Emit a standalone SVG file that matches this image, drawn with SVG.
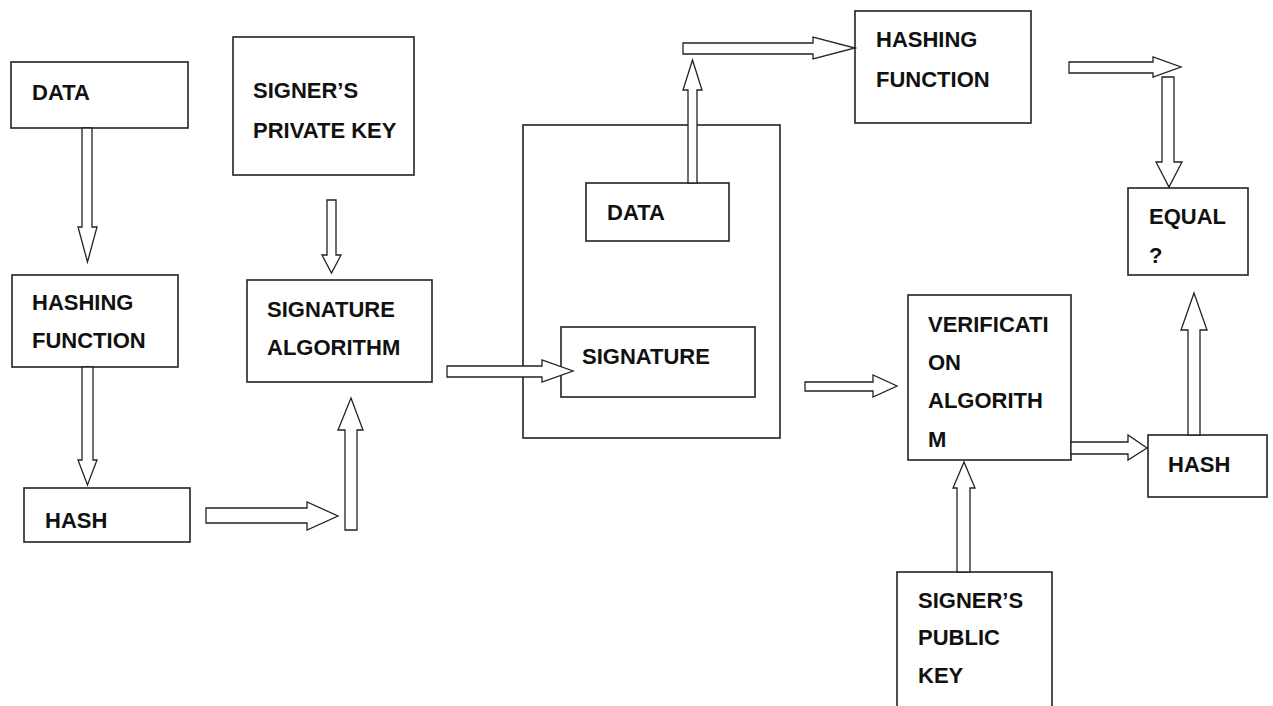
<svg xmlns="http://www.w3.org/2000/svg" width="1273" height="706" viewBox="0 0 1273 706">
<style>
.box{fill:#fff;stroke:#222;stroke-width:1.6}
.t{font-family:"Liberation Sans",Arial,sans-serif;font-weight:bold;font-size:22px;fill:#111}
.arr{fill:#fff;stroke:#222;stroke-width:1.3;stroke-linejoin:miter}
</style>
<rect width="1273" height="706" fill="#fff"/>
<g id="container"><rect x="523" y="125" width="257" height="313" fill="none" stroke="#222" stroke-width="1.6"/></g>
<g id="data1"><rect class="box" x="11" y="62" width="177" height="66"/><text class="t" x="32" y="100">DATA</text></g>
<g id="hash-func1"><rect class="box" x="12" y="275" width="166" height="92"/><text class="t" x="32" y="310">HASHING</text><text class="t" x="32" y="348">FUNCTION</text></g>
<g id="hash1"><rect class="box" x="24" y="488" width="166" height="54"/><text class="t" x="45" y="528">HASH</text></g>
<g id="private-key"><rect class="box" x="233" y="37" width="181" height="138"/><text class="t" x="253" y="98">SIGNER’S</text><text class="t" x="253" y="138">PRIVATE KEY</text></g>
<g id="sig-alg"><rect class="box" x="247" y="280" width="185" height="102"/><text class="t" x="267" y="317">SIGNATURE</text><text class="t" x="267" y="355">ALGORITHM</text></g>
<g id="data2"><rect class="box" x="586" y="183" width="143" height="58"/><text class="t" x="607" y="220">DATA</text></g>
<g id="signature"><rect class="box" x="561" y="327" width="194" height="70"/><text class="t" x="582" y="364">SIGNATURE</text></g>
<g id="hash-func2"><rect class="box" x="855" y="11" width="176" height="112"/><text class="t" x="876" y="47">HASHING</text><text class="t" x="876" y="87">FUNCTION</text></g>
<g id="equal"><rect class="box" x="1128" y="188" width="120" height="87"/><text class="t" x="1149" y="224">EQUAL</text><text class="t" x="1149" y="263">?</text></g>
<g id="verify"><rect class="box" x="908" y="295" width="163" height="165"/><text class="t" x="928" y="332">VERIFICATI</text><text class="t" x="928" y="370">ON</text><text class="t" x="928" y="408">ALGORITH</text><text class="t" x="928" y="447">M</text></g>
<g id="hash2"><rect class="box" x="1148" y="435" width="119" height="62"/><text class="t" x="1168" y="472">HASH</text></g>
<g id="public-key"><rect class="box" x="897" y="572" width="155" height="140"/><text class="t" x="918" y="608">SIGNER’S</text><text class="t" x="918" y="645">PUBLIC</text><text class="t" x="918" y="683">KEY</text></g>
<g id="connectors">
<polygon class="arr" points="82,128 92,128 92,227 97,227 87.5,262 78,227 82,227"/>
<polygon class="arr" points="82,367 93,367 93,460 97,460 87.5,485 78,460 82,460"/>
<polygon class="arr" points="206,508 307,508 307,502 338,516 307,530 307,523 206,523"/>
<polygon class="arr" points="345,530 357,530 357,430 363,430 351,398 338,430 345,430"/>
<polygon class="arr" points="327,200 336,200 336,255 341,255 331.5,273 322,255 327,255"/>
<polygon class="arr" points="447,366 542,366 542,360 573,371 542,382 542,377 447,377"/>
<polygon class="arr" points="688,183 697,183 697,90 702,90 692.5,60 683,90 688,90"/>
<polygon class="arr" points="683,43 813,43 813,37 855,48 813,59 813,54 683,54"/>
<polygon class="arr" points="1069,62 1153,62 1153,57 1181,67 1153,77 1153,73 1069,73"/>
<polygon class="arr" points="1162,77 1174,77 1174,162 1182,162 1169,187 1156,162 1162,162"/>
<polygon class="arr" points="805,382 873,382 873,375 897,386 873,397 873,391 805,391"/>
<polygon class="arr" points="957,572 970,572 970,488 975,488 964,462 953,488 957,488"/>
<polygon class="arr" points="1071,442 1128,442 1128,435 1147,448 1128,460 1128,454 1071,454"/>
<polygon class="arr" points="1188,435 1200,435 1200,330 1207,330 1194,293 1181,330 1188,330"/>
</g>
</svg>
